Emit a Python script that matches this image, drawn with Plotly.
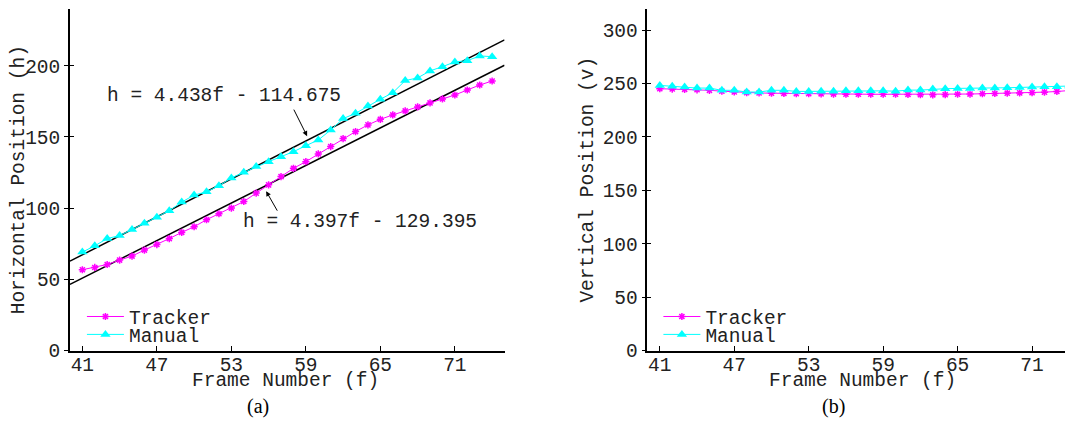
import plotly.graph_objects as go
import numpy as np

frames = list(range(41, 75))

h_tracker = [56.8, 58.4, 60.5, 63.6, 66.4, 70.6, 74.5, 78.7, 83.0, 87.0,
             91.9, 96.1, 100.1, 104.7, 110.6, 116.4, 122.2, 128.0, 132.7, 138.1,
             143.3, 148.9, 153.8, 158.5, 162.4, 165.5, 168.3, 171.1, 173.9, 176.7,
             179.5, 183.0, 186.5, 189.3]
h_manual = [69.2, 73.6, 78.7, 80.8, 85.0, 89.5, 93.7, 98.2, 104.3, 109.2,
            111.5, 115.7, 121.3, 125.2, 129.2, 132.7, 136.2, 139.7, 143.9, 147.9,
            154.9, 162.9, 166.6, 171.8, 176.5, 181.1, 189.6, 191.5, 196.4, 199.4,
            202.7, 203.6, 206.9, 206.4]

v_tracker = [245.2, 244.9, 244.6, 244.2, 243.7, 242.9, 242.2, 241.5, 241.2, 241.0,
             240.8, 240.6, 240.6, 240.4, 240.2, 240.0, 240.0, 240.0, 240.0, 240.0,
             239.8, 239.6, 239.5, 239.6, 240.0, 240.2, 240.5, 240.7, 241.0, 241.3,
             241.5, 242.0, 242.6, 243.5]
v_manual = [248.3, 247.4, 246.8, 245.8, 245.8, 243.7, 243.7, 242.1, 242.1, 243.7,
            243.7, 242.7, 242.7, 242.9, 242.9, 243.2, 243.2, 243.2, 243.2, 242.9,
            243.9, 243.9, 244.9, 245.2, 245.5, 245.5, 245.8, 245.8, 246.1, 246.4,
            246.8, 247.1, 247.1, 247.7]

fit_slopes = [4.438, 4.397]
fit_intercepts = [-114.675, -129.395]
fit_labels = ["h = 4.438f - 114.675", "h = 4.397f - 129.395"]

x_ticks = [41, 47, 53, 59, 65, 71]
h_ticks = [0, 50, 100, 150, 200]
v_ticks = [0, 50, 100, 150, 200, 250, 300]
x_title = "Frame Number (f)"
y_titles = ["Horizontal Position (h)", "Vertical Position (v)"]
captions = ["(a)", "(b)"]

MAG = "#ff00ff"
CYA = "#00ffff"
MONO = "Liberation Mono"
FS = 19.5
W, H = 1073, 424

# page-pixel -> paper fraction (compensates the page offset seen in rendering)
def PX(p):
    return (p - 7) / W

def PY(p):
    return 1 - ((p - 7.7) / 0.974) / H

fig = go.Figure()

fit_x = np.array([40, 75])
for s, b in zip(fit_slopes, fit_intercepts):
    fig.add_trace(go.Scatter(x=fit_x, y=s * fit_x + b, mode="lines",
                             line=dict(color="black", width=1.5),
                             showlegend=False, xaxis="x", yaxis="y"))

def tracker(x, y, xa_, ya_, leg):
    return go.Scatter(x=x, y=y, mode="lines+markers", name="Tracker",
                      line=dict(color=MAG, width=1),
                      marker=dict(symbol="asterisk-open", size=6, color=MAG,
                                  line=dict(color=MAG, width=1.5)),
                      xaxis=xa_, yaxis=ya_, legend=leg)

def manual(x, y, xa_, ya_, leg):
    return go.Scatter(x=x, y=y, mode="lines+markers", name="Manual",
                      line=dict(color=CYA, width=1),
                      marker=dict(symbol="triangle-up", size=9, color=CYA),
                      xaxis=xa_, yaxis=ya_, legend=leg)

fig.add_trace(tracker(frames, h_tracker, "x", "y", "legend"))
fig.add_trace(manual(frames, h_manual, "x", "y", "legend3"))
fig.add_trace(tracker(frames, v_tracker, "x2", "y2", "legend2"))
fig.add_trace(manual(frames, v_manual, "x2", "y2", "legend4"))

# dummy traces to activate overlay axes (crossing y ticks)
fig.add_trace(go.Scatter(x=[], y=[], xaxis="x", yaxis="y3", showlegend=False))
fig.add_trace(go.Scatter(x=[], y=[], xaxis="x2", yaxis="y4", showlegend=False))

ydom = [PY(352), PY(8.5)]
font = dict(family=MONO, size=FS, color="#222")

def xa(dom, rng, anchor):
    return dict(domain=dom, range=rng, anchor=anchor, tickvals=x_ticks,
                showline=True, linecolor="black", linewidth=1.5, showgrid=False,
                zeroline=False, ticks="inside", ticklen=5, tickcolor="black",
                tickfont=font, ticklabelstandoff=-5)

def ya(rng, anchor, tv, title):
    return dict(domain=ydom, range=rng, anchor=anchor, tickvals=tv,
                showline=True, linecolor="black", linewidth=1.5, showgrid=False,
                zeroline=False, ticks="outside", ticklen=4, tickcolor="black",
                tickfont=font, title=dict(text=title, font=font, standoff=4))

def ya_in(rng, anchor, tv, over):
    return dict(domain=ydom, range=rng, anchor=anchor, tickvals=tv, overlaying=over,
                showline=False, showgrid=False, zeroline=False, ticks="inside",
                ticklen=4, tickcolor="black", showticklabels=False)

def leg(xp, yp):
    return dict(x=PX(xp), y=PY(yp), xanchor="left", yanchor="middle",
                font=font, bgcolor="rgba(0,0,0,0)", itemwidth=37,
                borderwidth=0)

fig.update_layout(
    width=W, height=H,
    margin=dict(l=0, r=0, t=0, b=0),
    paper_bgcolor="white", plot_bgcolor="white",
    xaxis=xa([PX(68), PX(503)], [40, 75], "y"),
    yaxis=ya([0, 240], "x", h_ticks, y_titles[0]),
    yaxis3=ya_in([0, 240], "x", h_ticks, "y"),
    xaxis2=xa([PX(646), PX(1072)], [40, 74.3], "y2"),
    yaxis2=ya([0, 320], "x2", v_ticks, y_titles[1]),
    yaxis4=ya_in([0, 320], "x2", v_ticks, "y2"),
    legend=leg(80, 318),
    legend3=leg(80, 336),
    legend2=leg(657, 318),
    legend4=leg(657, 336),
    showlegend=True,
)

# x-axis titles
for cx in (284, 861):
    fig.add_annotation(x=PX(cx), y=PY(382), xref="paper", yref="paper", text=x_title,
                       xanchor="center", yanchor="middle", showarrow=False, font=font)

fig.add_annotation(x=PX(222), y=PY(96), xref="paper", yref="paper", text=fit_labels[0],
                   xanchor="center", yanchor="middle", showarrow=False, font=font)
fig.add_annotation(x=PX(358), y=PY(223), xref="paper", yref="paper", text=fit_labels[1],
                   xanchor="center", yanchor="middle", showarrow=False, font=font)

fa, fb = 59.1, 55.8
fig.add_annotation(x=fa, y=fit_slopes[0] * fa + fit_intercepts[0] + 3, xref="x", yref="y",
                   text="", showarrow=True, ax=-14, ay=-28, arrowhead=2,
                   arrowsize=1, arrowwidth=1, arrowcolor="black")
fig.add_annotation(x=fb, y=fit_slopes[1] * fb + fit_intercepts[1] - 4, xref="x", yref="y",
                   text="", showarrow=True, ax=12, ay=21, arrowhead=2,
                   arrowsize=1, arrowwidth=1, arrowcolor="black")

cap = dict(family="Liberation Serif", size=20, color="black")
for cx, txt in zip((256, 832), captions):
    fig.add_annotation(x=PX(cx), y=PY(408), xref="paper", yref="paper", text=txt,
                       xanchor="center", yanchor="middle", showarrow=False, font=cap)

fig.write_html("out.html")
